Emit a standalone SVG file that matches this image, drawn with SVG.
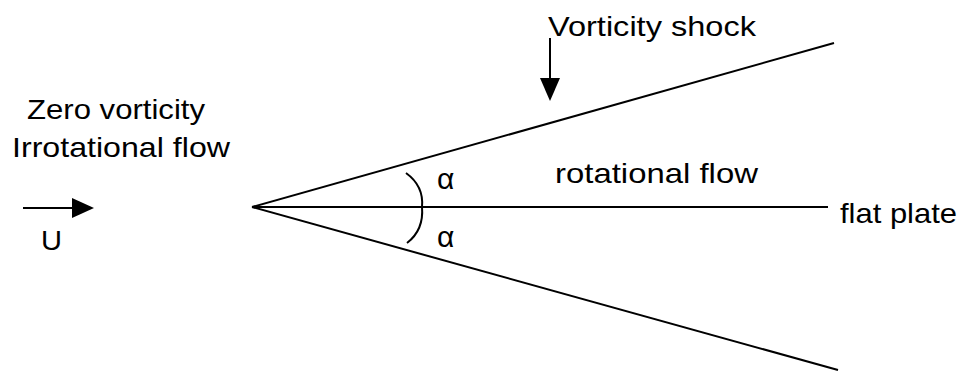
<svg xmlns="http://www.w3.org/2000/svg" width="964" height="371" viewBox="0 0 964 371">
<defs>
<style>
.ln{stroke:#000;stroke-width:2;fill:none}
.t{font-family:"Liberation Sans",Arial,sans-serif;font-size:28px;fill:#000}
.a{font-family:"Liberation Sans",Arial,sans-serif;font-size:30px;fill:#000}
</style>
</defs>
<rect width="964" height="371" fill="#fff"/>
<g id="connectors">
<line id="shock-upper" class="ln" x1="252" y1="207" x2="834" y2="43"/>
<line id="shock-lower" class="ln" x1="252" y1="207" x2="838" y2="370"/>
<line id="plate" class="ln" x1="252" y1="207" x2="828" y2="207"/>
<path id="angle-arc" class="ln" d="M406,173 Q424,186 422,207 Q424,230 407,243"/>
<line id="u-arrow" class="ln" x1="23" y1="208" x2="75" y2="208"/>
<path d="M72,198 L94,208 L72,218 Z" fill="#000"/>
<line id="shock-arrow" class="ln" x1="550" y1="38" x2="550" y2="80"/>
<path d="M540,78 L550,101 L560,78 Z" fill="#000"/>
</g>
<g id="label-zero"><text class="t" x="27" y="119" textLength="178" lengthAdjust="spacingAndGlyphs">Zero vorticity</text></g>
<g id="label-irrot"><text class="t" x="12" y="157" textLength="218" lengthAdjust="spacingAndGlyphs">Irrotational flow</text></g>
<g id="label-u"><text class="t" x="41" y="250" textLength="21" lengthAdjust="spacingAndGlyphs">U</text></g>
<g id="label-shock"><text class="t" x="548" y="36" textLength="208" lengthAdjust="spacingAndGlyphs">Vorticity shock</text></g>
<g id="label-rot"><text class="t" x="555" y="183" textLength="203" lengthAdjust="spacingAndGlyphs">rotational flow</text></g>
<g id="label-plate"><text class="t" x="840" y="223" textLength="117" lengthAdjust="spacingAndGlyphs">flat plate</text></g>
<g id="alpha-upper"><text class="a" x="437" y="189">α</text></g>
<g id="alpha-lower"><text class="a" x="437" y="247">α</text></g>
</svg>
